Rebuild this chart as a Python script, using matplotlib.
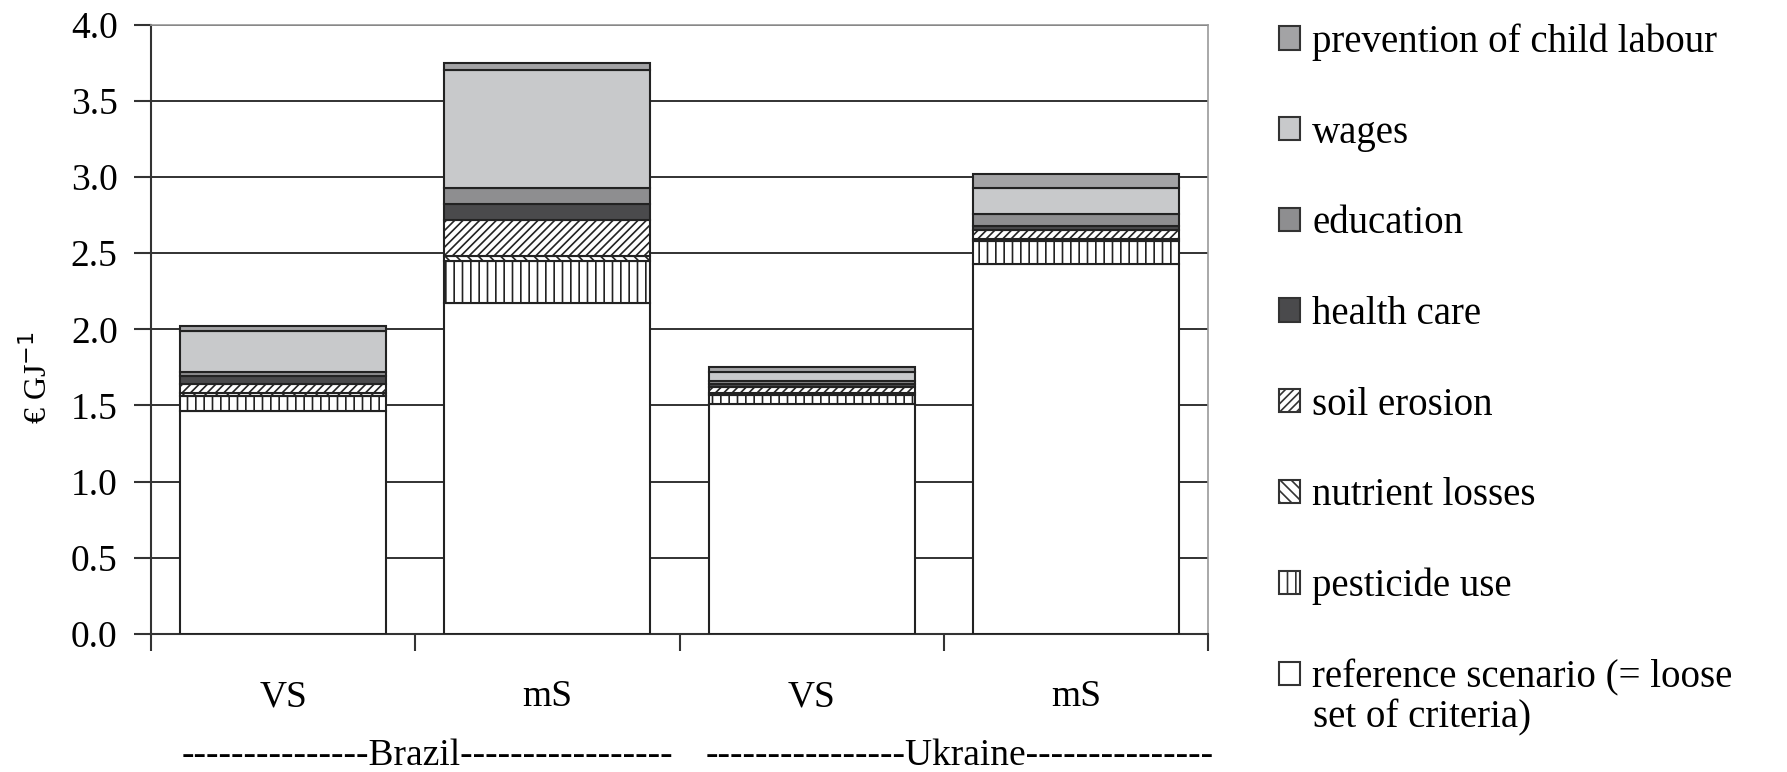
import matplotlib
matplotlib.use("Agg")
import matplotlib.pyplot as plt
import numpy as np
from matplotlib.patches import Patch

plt.rcParams['font.family'] = ['Liberation Serif', 'DejaVu Serif']
plt.rcParams['hatch.linewidth'] = 1.2

# bars: Brazil VS, Brazil mS, Ukraine VS, Ukraine mS
scenarios = ['VS', 'mS', 'VS', 'mS']
countries = ['Brazil', 'Ukraine']

# component values (EUR/GJ), bottom to top
reference = [1.46, 2.17, 1.51, 2.43]
pesticide = [0.10, 0.28, 0.06, 0.15]
nutrient = [0.02, 0.03, 0.01, 0.01]
soil = [0.06, 0.24, 0.04, 0.06]
health = [0.05, 0.10, 0.02, 0.03]
education = [0.03, 0.11, 0.02, 0.08]
wages = [0.27, 0.77, 0.06, 0.17]
child = [0.03, 0.05, 0.03, 0.09]

series = [
    ('reference scenario (= loose', reference, 'white', None),
    ('pesticide use', pesticide, 'white', '||'),
    ('nutrient losses', nutrient, 'white', '\\\\\\'),
    ('soil erosion', soil, 'white', '////'),
    ('health care', health, '#4a4a4c', None),
    ('education', education, '#8e8e90', None),
    ('wages', wages, '#c8c9cb', None),
    ('prevention of child labour', child, '#a3a3a5', None),
]

fig = plt.figure(figsize=(17.87, 7.72), dpi=100)
ax = fig.add_axes([0.0845, 0.179, 0.5915, 0.789])

x = np.arange(len(scenarios))
bottom = np.zeros(len(scenarios))
handles = []
for label, vals, col, hatch in series:
    ax.bar(x, vals, 0.78, bottom=bottom, color=col, edgecolor='#222222',
           linewidth=1.5, hatch=hatch, zorder=3)
    bottom += np.array(vals)
    handles.append(Patch(facecolor=col, edgecolor='#333333', hatch=hatch, linewidth=1.5))

ax.set_xlim(-0.5, 3.5)
ax.set_ylim(0, 4.0)
ax.set_yticks(np.arange(0, 4.01, 0.5))
ax.set_yticklabels([f'{v:.1f}' for v in np.arange(0, 4.01, 0.5)], fontsize=27)
ax.yaxis.grid(True, color='#222222', linewidth=1.3, zorder=0)
ax.set_axisbelow(True)
ax.set_xticks(np.arange(-0.5, 3.6, 1))
ax.set_xticklabels([])
ax.tick_params(axis='both', direction='out', length=12, width=1.5, color='#333333')
ax.tick_params(axis='y', pad=12)
for s in ['top', 'right']:
    ax.spines[s].set_color('#999999')
    ax.spines[s].set_linewidth(1.2)
for s in ['left', 'bottom']:
    ax.spines[s].set_color('#333333')
    ax.spines[s].set_linewidth(1.5)

ax.set_ylabel('€ GJ$^{-1}$', fontsize=23)
ax.yaxis.set_label_coords(-0.092, 0.42)

for i, s in enumerate(scenarios):
    ax.text(x[i], -0.104, s, ha='center', va='center', fontsize=27,
            transform=ax.get_xaxis_transform())
country_x = [-0.385, 1.60]
dashes = [(15, 17), (16, 15)]
for j, c in enumerate(countries):
    ax.text(country_x[j], -0.2, '-' * dashes[j][0] + c + '-' * dashes[j][1],
            ha='left', va='center', fontsize=27, transform=ax.get_xaxis_transform())

labels = [s[0] for s in series]
fig.legend(handles[::-1], labels[::-1], loc='upper left', bbox_to_anchor=(0.707, 0.99),
           frameon=False, fontsize=28, handlelength=0.55, handleheight=0.55,
           handletextpad=0.3, labelspacing=1.38, borderaxespad=0)
fig.text(0.7345, 0.07, 'set of criteria)', fontsize=28, ha='left', va='center')

fig.savefig('out.png', dpi=100)
